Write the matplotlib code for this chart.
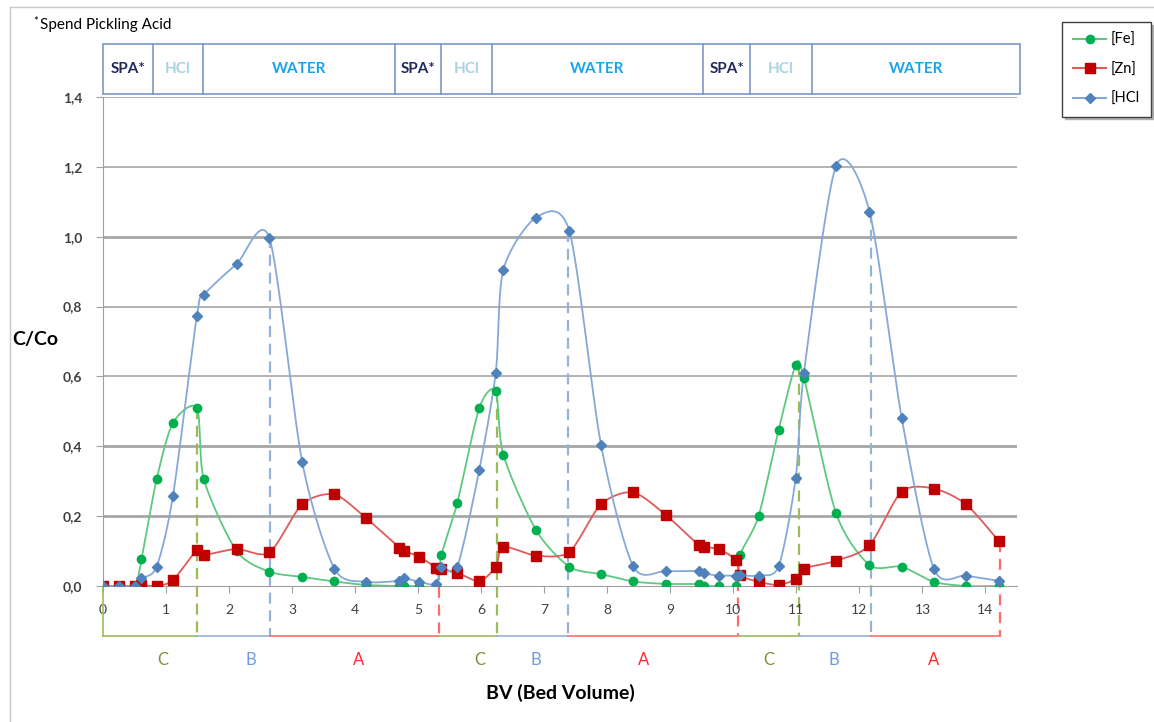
import numpy as np
import matplotlib.pyplot as plt
from matplotlib.lines import Line2D
from matplotlib.patches import Rectangle

plt.rcParams['font.family'] = ['Lato', 'DejaVu Sans']

# bed volume, shared by the three series
bv = [0.0, 0.26, 0.51, 0.61, 0.85, 1.11, 1.49, 1.60, 2.12, 2.64, 3.16, 3.67,
      4.17, 4.70, 4.78, 5.02, 5.29, 5.37, 5.62, 5.97, 6.23, 6.35, 6.87, 7.40,
      7.90, 8.41, 8.93, 9.45, 9.53, 9.77, 10.05, 10.11, 10.40, 10.72, 10.99,
      11.12, 11.63, 12.16, 12.67, 13.18, 13.69, 14.21]

fe = [0, 0, 0, 0.076, 0.305, 0.467, 0.51, 0.305, 0.10, 0.041, 0.026, 0.013,
      0.003, 0, 0, 0, 0, 0.09, 0.238, 0.51, 0.558, 0.376, 0.16, 0.055,
      0.034, 0.013, 0.006, 0.006, 0, 0, 0, 0.09, 0.20, 0.448, 0.633,
      0.595, 0.208, 0.06, 0.055, 0.012, 0, 0]

zn = [0, 0, 0, 0.003, 0.0, 0.017, 0.103, 0.089, 0.106, 0.096, 0.234, 0.262,
      0.195, 0.11, 0.10, 0.084, 0.052, 0.048, 0.038, 0.014, 0.055, 0.112, 0.087, 0.098,
      0.234, 0.268, 0.203, 0.117, 0.112, 0.105, 0.074, 0.031, 0.012, 0.003, 0.02,
      0.05, 0.072, 0.117, 0.27, 0.279, 0.234, 0.129]

hcl = [0, 0, 0, 0.022, 0.055, 0.258, 0.774, 0.833, 0.922, 0.996, 0.355, 0.05,
       0.012, 0.015, 0.022, 0.012, 0.005, 0.055, 0.055, 0.333, 0.61, 0.905, 1.055, 1.015,
       0.405, 0.057, 0.043, 0.043, 0.036, 0.03, 0.03, 0.031, 0.03, 0.057, 0.31,
       0.61, 1.203, 1.072, 0.482, 0.05, 0.03, 0.015]

# zones under the x axis
zones = ['C', 'B', 'A', 'C', 'B', 'A', 'C', 'B', 'A']
zone_edges = [0, 1.49, 2.65, 5.33, 6.25, 7.38, 10.08, 11.04, 12.18, 14.23]
zone_tops = [0.51, 1.0, 0.05, 0.558, 1.015, 0.07, 0.63, 1.07, 0.13]
zone_text_x = [0.95, 2.34, 4.05, 5.98, 6.86, 8.57, 10.56, 11.59, 13.17]

# phases in the header band
phases = ['SPA*', 'HCl', 'WATER'] * 3
phase_edges = [0, 0.79, 1.59, 4.63, 5.37, 6.17, 9.52, 10.27, 11.24, 14.55]


def smooth(x, y, n=24, k=0.8):
    # cardinal spline through the points (like excel "smoothed line")
    p = np.column_stack([x, y]).astype(float)
    p = np.vstack([p[0], p, p[-1]])
    out = []
    t = np.linspace(0, 1, n, endpoint=False)[:, None]
    h00 = 2 * t ** 3 - 3 * t ** 2 + 1
    h10 = t ** 3 - 2 * t ** 2 + t
    h01 = -2 * t ** 3 + 3 * t ** 2
    h11 = t ** 3 - t ** 2
    for i in range(1, len(p) - 2):
        p0, p1, p2, p3 = p[i - 1], p[i], p[i + 1], p[i + 2]
        m1 = 0.5 * k * (p2 - p0)
        m2 = 0.5 * k * (p3 - p1)
        out.append(h00 * p1 + h10 * m1 + h01 * p2 + h11 * m2)
    out.append(p[-2][None, :])
    out = np.vstack(out)
    return out[:, 0], out[:, 1]


fig = plt.figure(figsize=(11.54, 7.22), dpi=100)
ax = fig.add_axes([103 / 1154, 1 - 586 / 722, (1017 - 103) / 1154, (586 - 97) / 722])

ax.set_xlim(0, 14.5)
ax.set_ylim(0, 1.4)

# gridlines
grid_w = [2.0, 2.0, 1.2, 1.2, 2.0, 1.2, 1.2]
for g, w in zip(np.arange(0.2, 1.41, 0.2), grid_w):
    ax.axhline(g, color='#a6a6a6', lw=w, zorder=0)

series = [
    ('[Fe]', fe, '#5cc97f', '#00b050', 'o', 6),
    ('[Zn]', zn, '#df5a5a', '#c00000', 's', 6.5),
    ('[HCl', hcl, '#86a8d8', '#4f81bd', 'D', 5.5),
]
handles = []
for name, vals, lc, mc, mk, ms in series:
    sx, sy = smooth(bv, vals)
    ax.plot(sx, sy, color=lc, lw=1.3, zorder=2)
    ax.plot(bv, vals, ls='none', marker=mk, ms=ms, color=mc, mec=mc, zorder=3)
    handles.append(Line2D([], [], color=lc, lw=1.5, marker=mk, ms=ms, mfc=mc, mec=mc))

for s in ['top', 'right']:
    ax.spines[s].set_visible(False)
ax.spines['left'].set_color('#a0a0a0')
ax.spines['bottom'].set_color('#a0a0a0')

ax.set_xticks(range(0, 15))
ax.set_xticklabels([str(i) for i in range(0, 15)], fontsize=10, color='#404040')
ax.set_yticks(np.arange(0, 1.41, 0.2))
ax.set_yticklabels([('%.1f' % v).replace('.', ',') for v in np.arange(0, 1.41, 0.2)],
                   fontsize=10, fontweight='bold', color='#404040')
ax.tick_params(axis='x', length=5, color='#a0a0a0', pad=8)
ax.tick_params(axis='y', length=5, color='#a0a0a0', pad=10)

# zone brackets below the axis
zone_col = {'C': '#9bbb59', 'B': '#95b3d7', 'A': '#ff6b6b'}
zone_txt = {'C': '#8a8a40', 'B': '#6f9be0', 'A': '#ff2a2a'}
yb = -0.143
ax.plot([0, 0], [0, yb], color=zone_col['C'], lw=1.2, clip_on=False)
for i, z in enumerate(zones):
    x0, x1 = zone_edges[i], zone_edges[i + 1]
    ax.plot([x0, x1], [yb, yb], color=zone_col[z], lw=1.2, clip_on=False)
    ax.plot([x1, x1], [zone_tops[i], yb], color=zone_col[z], lw=1.6,
            ls=(0, (5, 3)), clip_on=False, zorder=1)
    ax.text(zone_text_x[i], -0.211, z, color=zone_txt[z], fontsize=12,
            ha='center', va='center', clip_on=False)

# header band
hy0, hy1 = 1.409, 1.551
ax.add_patch(Rectangle((0, hy0), phase_edges[-1], hy1 - hy0, fill=False,
                       ec='#7b98c8', lw=1.2, clip_on=False))
phase_col = {'SPA*': '#1f2a5c', 'HCl': '#a9d2e3', 'WATER': '#1aa3e8'}
for i, ph in enumerate(phases):
    x0, x1 = phase_edges[i], phase_edges[i + 1]
    if i > 0:
        ax.plot([x0, x0], [hy0, hy1], color='#7b98c8', lw=1.2, clip_on=False)
    ax.text((x0 + x1) / 2, (hy0 + hy1) / 2, ph, color=phase_col[ph],
            fontsize=11, fontweight='bold', ha='center', va='center', clip_on=False)

# texts around the chart
fig.text(33 / 1154, 1 - 22 / 722, '*', fontsize=8, va='center')
fig.text(40 / 1154, 1 - 25 / 722, 'Spend Pickling Acid', fontsize=11, va='center')
fig.text(35 / 1154, 1 - 340 / 722, 'C/Co', fontsize=14, fontweight='bold',
         ha='center', va='center')
fig.text(560 / 1154, 1 - 693 / 722, 'BV (Bed Volume)', fontsize=14,
         fontweight='bold', ha='center', va='center')

leg = fig.legend(handles, ['[Fe]', '[Zn]', '[HCl'], loc='upper left',
                 bbox_to_anchor=(1062 / 1154, 1 - 22 / 722), fontsize=10.5,
                 frameon=True, fancybox=False, labelspacing=1.05, borderaxespad=0,
                 handlelength=2.3, handletextpad=0.3, borderpad=0.75,
                 shadow={'ox': 2, 'oy': -2, 'color': '#b0b0b0', 'alpha': 1})
leg.get_frame().set_edgecolor('#404040')
leg.get_frame().set_linewidth(1.0)

# outer border of the picture
fig.add_artist(Line2D([10 / 1154, 10 / 1154], [0, 1 - 7 / 722], color='#c8c8c8', lw=1))
fig.add_artist(Line2D([10 / 1154, 1], [1 - 7 / 722, 1 - 7 / 722], color='#c8c8c8', lw=1))

fig.savefig('out.png', dpi=100)
